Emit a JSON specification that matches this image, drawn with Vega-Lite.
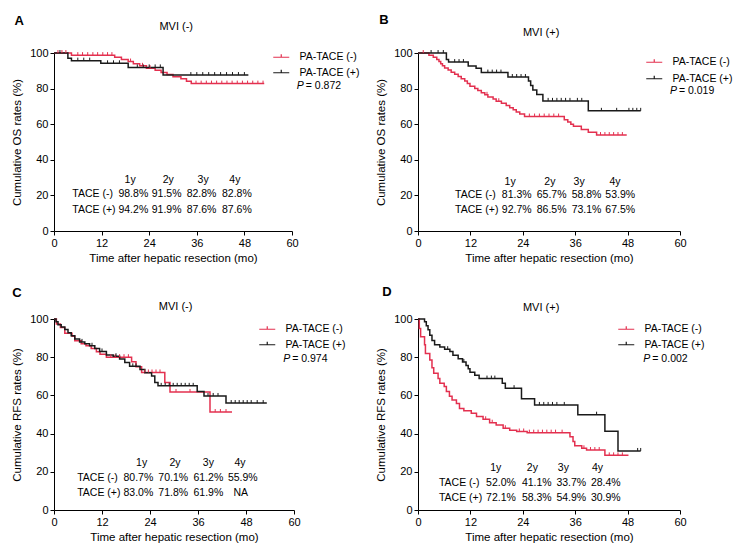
{
"$schema": "https://vega.github.io/schema/vega-lite/v6.json",
"autosize": {"type": "none"},
"padding": {"left": 54, "top": 53, "right": 685, "bottom": 501},
"background": "white",
"config": {
  "view": {"stroke": null},
  "font": "Liberation Sans",
  "axis": {"grid": false, "domainColor": "#000", "tickColor": "#000", "labelColor": "#000", "titleColor": "#000", "labelFont": "Liberation Sans", "titleFont": "Liberation Sans", "labelFontSize": 11, "titleFontSize": 11.5, "titleFontWeight": "normal", "tickSize": 4, "labelPadding": 2, "domainWidth": 1, "tickWidth": 1, "labelOverlap": false},
  "legend": {"labelFont": "Liberation Sans"},
  "text": {"color": "#000", "font": "Liberation Sans"}
},
"datasets": {
  "curves": [
    {"panel":"A","g":"PA-TACE (-)","t":0,"s":100},{"panel":"A","g":"PA-TACE (-)","t":4.4,"s":98.8},{"panel":"A","g":"PA-TACE (-)","t":15.3,"s":97.6},{"panel":"A","g":"PA-TACE (-)","t":17.0,"s":96.4},{"panel":"A","g":"PA-TACE (-)","t":18.7,"s":95.2},{"panel":"A","g":"PA-TACE (-)","t":20.0,"s":94.0},{"panel":"A","g":"PA-TACE (-)","t":21.6,"s":92.8},{"panel":"A","g":"PA-TACE (-)","t":23.3,"s":91.5},{"panel":"A","g":"PA-TACE (-)","t":25.5,"s":90.3},{"panel":"A","g":"PA-TACE (-)","t":27.0,"s":89.1},{"panel":"A","g":"PA-TACE (-)","t":28.5,"s":87.9},{"panel":"A","g":"PA-TACE (-)","t":30.0,"s":86.7},{"panel":"A","g":"PA-TACE (-)","t":32.0,"s":85.5},{"panel":"A","g":"PA-TACE (-)","t":33.4,"s":84.1},{"panel":"A","g":"PA-TACE (-)","t":34.6,"s":82.8},{"panel":"A","g":"PA-TACE (-)","t":53.0,"s":82.8},
    {"panel":"A","g":"PA-TACE (+)","t":0,"s":100},{"panel":"A","g":"PA-TACE (+)","t":3.5,"s":97.1},{"panel":"A","g":"PA-TACE (+)","t":4.4,"s":95.7},{"panel":"A","g":"PA-TACE (+)","t":11.8,"s":94.2},{"panel":"A","g":"PA-TACE (+)","t":18.7,"s":91.9},{"panel":"A","g":"PA-TACE (+)","t":27.5,"s":87.6},{"panel":"A","g":"PA-TACE (+)","t":49.0,"s":87.6},
    {"panel":"B","g":"PA-TACE (-)","t":0,"s":100},{"panel":"B","g":"PA-TACE (-)","t":2.5,"s":98.8},{"panel":"B","g":"PA-TACE (-)","t":3.5,"s":97.6},{"panel":"B","g":"PA-TACE (-)","t":4.3,"s":96.4},{"panel":"B","g":"PA-TACE (-)","t":4.8,"s":95.2},{"panel":"B","g":"PA-TACE (-)","t":5.2,"s":94.0},{"panel":"B","g":"PA-TACE (-)","t":5.6,"s":92.8},{"panel":"B","g":"PA-TACE (-)","t":6.1,"s":91.6},{"panel":"B","g":"PA-TACE (-)","t":6.9,"s":90.4},{"panel":"B","g":"PA-TACE (-)","t":7.6,"s":89.2},{"panel":"B","g":"PA-TACE (-)","t":8.4,"s":88.0},{"panel":"B","g":"PA-TACE (-)","t":9.2,"s":86.8},{"panel":"B","g":"PA-TACE (-)","t":9.9,"s":85.6},{"panel":"B","g":"PA-TACE (-)","t":10.7,"s":84.2},{"panel":"B","g":"PA-TACE (-)","t":11.3,"s":82.8},{"panel":"B","g":"PA-TACE (-)","t":11.9,"s":81.3},{"panel":"B","g":"PA-TACE (-)","t":13.0,"s":80.1},{"panel":"B","g":"PA-TACE (-)","t":13.7,"s":78.9},{"panel":"B","g":"PA-TACE (-)","t":14.5,"s":77.7},{"panel":"B","g":"PA-TACE (-)","t":15.3,"s":76.5},{"panel":"B","g":"PA-TACE (-)","t":16.0,"s":75.3},{"panel":"B","g":"PA-TACE (-)","t":17.2,"s":74.1},{"panel":"B","g":"PA-TACE (-)","t":17.9,"s":72.9},{"panel":"B","g":"PA-TACE (-)","t":19.1,"s":71.7},{"panel":"B","g":"PA-TACE (-)","t":20.2,"s":70.5},{"panel":"B","g":"PA-TACE (-)","t":21.0,"s":69.3},{"panel":"B","g":"PA-TACE (-)","t":21.8,"s":68.1},{"panel":"B","g":"PA-TACE (-)","t":22.5,"s":66.9},{"panel":"B","g":"PA-TACE (-)","t":23.3,"s":65.7},{"panel":"B","g":"PA-TACE (-)","t":24.4,"s":64.3},{"panel":"B","g":"PA-TACE (-)","t":33.5,"s":62.5},{"panel":"B","g":"PA-TACE (-)","t":34.3,"s":61.2},{"panel":"B","g":"PA-TACE (-)","t":35.0,"s":60.0},{"panel":"B","g":"PA-TACE (-)","t":35.6,"s":58.8},{"panel":"B","g":"PA-TACE (-)","t":37.4,"s":57.0},{"panel":"B","g":"PA-TACE (-)","t":39.0,"s":55.5},{"panel":"B","g":"PA-TACE (-)","t":40.9,"s":53.9},{"panel":"B","g":"PA-TACE (-)","t":47.8,"s":53.9},
    {"panel":"B","g":"PA-TACE (+)","t":0,"s":100},{"panel":"B","g":"PA-TACE (+)","t":6.5,"s":96.3},{"panel":"B","g":"PA-TACE (+)","t":7.0,"s":94.9},{"panel":"B","g":"PA-TACE (+)","t":11.5,"s":92.7},{"panel":"B","g":"PA-TACE (+)","t":13.3,"s":91.4},{"panel":"B","g":"PA-TACE (+)","t":14.5,"s":89.0},{"panel":"B","g":"PA-TACE (+)","t":20.6,"s":86.5},{"panel":"B","g":"PA-TACE (+)","t":25.3,"s":84.2},{"panel":"B","g":"PA-TACE (+)","t":25.8,"s":81.7},{"panel":"B","g":"PA-TACE (+)","t":26.3,"s":79.2},{"panel":"B","g":"PA-TACE (+)","t":27.2,"s":76.7},{"panel":"B","g":"PA-TACE (+)","t":28.6,"s":73.1},{"panel":"B","g":"PA-TACE (+)","t":39.0,"s":67.5},{"panel":"B","g":"PA-TACE (+)","t":51.0,"s":67.5},
    {"panel":"C","g":"PA-TACE (-)","t":0,"s":100},{"panel":"C","g":"PA-TACE (-)","t":0.6,"s":97.4},{"panel":"C","g":"PA-TACE (-)","t":1.6,"s":95.6},{"panel":"C","g":"PA-TACE (-)","t":2.7,"s":92.6},{"panel":"C","g":"PA-TACE (-)","t":4.5,"s":91.0},{"panel":"C","g":"PA-TACE (-)","t":5.2,"s":88.6},{"panel":"C","g":"PA-TACE (-)","t":6.8,"s":87.0},{"panel":"C","g":"PA-TACE (-)","t":8.0,"s":86.0},{"panel":"C","g":"PA-TACE (-)","t":9.3,"s":84.5},{"panel":"C","g":"PA-TACE (-)","t":10.6,"s":82.8},{"panel":"C","g":"PA-TACE (-)","t":11.5,"s":81.5},{"panel":"C","g":"PA-TACE (-)","t":13.1,"s":80.0},{"panel":"C","g":"PA-TACE (-)","t":19.4,"s":77.6},{"panel":"C","g":"PA-TACE (-)","t":20.5,"s":75.0},{"panel":"C","g":"PA-TACE (-)","t":21.9,"s":72.0},{"panel":"C","g":"PA-TACE (-)","t":27.7,"s":66.7},{"panel":"C","g":"PA-TACE (-)","t":29.0,"s":61.8},{"panel":"C","g":"PA-TACE (-)","t":39.0,"s":51.3},{"panel":"C","g":"PA-TACE (-)","t":44.5,"s":51.3},
    {"panel":"C","g":"PA-TACE (+)","t":0,"s":100},{"panel":"C","g":"PA-TACE (+)","t":0.5,"s":98.5},{"panel":"C","g":"PA-TACE (+)","t":1.0,"s":97.0},{"panel":"C","g":"PA-TACE (+)","t":1.8,"s":95.8},{"panel":"C","g":"PA-TACE (+)","t":2.7,"s":94.5},{"panel":"C","g":"PA-TACE (+)","t":3.5,"s":92.8},{"panel":"C","g":"PA-TACE (+)","t":4.3,"s":91.2},{"panel":"C","g":"PA-TACE (+)","t":5.2,"s":89.5},{"panel":"C","g":"PA-TACE (+)","t":6.4,"s":88.0},{"panel":"C","g":"PA-TACE (+)","t":7.7,"s":87.0},{"panel":"C","g":"PA-TACE (+)","t":8.9,"s":86.0},{"panel":"C","g":"PA-TACE (+)","t":10.2,"s":84.5},{"panel":"C","g":"PA-TACE (+)","t":11.4,"s":83.0},{"panel":"C","g":"PA-TACE (+)","t":13.1,"s":81.2},{"panel":"C","g":"PA-TACE (+)","t":14.8,"s":80.5},{"panel":"C","g":"PA-TACE (+)","t":16.4,"s":79.0},{"panel":"C","g":"PA-TACE (+)","t":17.7,"s":77.2},{"panel":"C","g":"PA-TACE (+)","t":18.9,"s":75.2},{"panel":"C","g":"PA-TACE (+)","t":21.5,"s":73.5},{"panel":"C","g":"PA-TACE (+)","t":22.7,"s":71.8},{"panel":"C","g":"PA-TACE (+)","t":24.4,"s":70.2},{"panel":"C","g":"PA-TACE (+)","t":25.2,"s":66.7},{"panel":"C","g":"PA-TACE (+)","t":26.0,"s":65.0},{"panel":"C","g":"PA-TACE (+)","t":35.8,"s":62.0},{"panel":"C","g":"PA-TACE (+)","t":37.5,"s":59.7},{"panel":"C","g":"PA-TACE (+)","t":43.0,"s":56.0},{"panel":"C","g":"PA-TACE (+)","t":53.2,"s":56.0},
    {"panel":"D","g":"PA-TACE (-)","t":0,"s":100},{"panel":"D","g":"PA-TACE (-)","t":0.3,"s":95.0},{"panel":"D","g":"PA-TACE (-)","t":0.6,"s":90.7},{"panel":"D","g":"PA-TACE (-)","t":1.5,"s":86.5},{"panel":"D","g":"PA-TACE (-)","t":1.7,"s":82.0},{"panel":"D","g":"PA-TACE (-)","t":2.7,"s":78.5},{"panel":"D","g":"PA-TACE (-)","t":3.2,"s":74.5},{"panel":"D","g":"PA-TACE (-)","t":3.6,"s":71.6},{"panel":"D","g":"PA-TACE (-)","t":4.6,"s":68.8},{"panel":"D","g":"PA-TACE (-)","t":5.0,"s":66.3},{"panel":"D","g":"PA-TACE (-)","t":6.0,"s":64.6},{"panel":"D","g":"PA-TACE (-)","t":6.5,"s":62.0},{"panel":"D","g":"PA-TACE (-)","t":7.2,"s":59.5},{"panel":"D","g":"PA-TACE (-)","t":7.8,"s":57.6},{"panel":"D","g":"PA-TACE (-)","t":8.8,"s":55.8},{"panel":"D","g":"PA-TACE (-)","t":9.5,"s":53.2},{"panel":"D","g":"PA-TACE (-)","t":10.5,"s":52.0},{"panel":"D","g":"PA-TACE (-)","t":12.2,"s":50.6},{"panel":"D","g":"PA-TACE (-)","t":13.4,"s":48.9},{"panel":"D","g":"PA-TACE (-)","t":14.9,"s":47.5},{"panel":"D","g":"PA-TACE (-)","t":16.4,"s":45.7},{"panel":"D","g":"PA-TACE (-)","t":17.9,"s":44.5},{"panel":"D","g":"PA-TACE (-)","t":19.5,"s":42.8},{"panel":"D","g":"PA-TACE (-)","t":21.0,"s":41.8},{"panel":"D","g":"PA-TACE (-)","t":22.6,"s":41.1},{"panel":"D","g":"PA-TACE (-)","t":25.0,"s":40.5},{"panel":"D","g":"PA-TACE (-)","t":34.8,"s":38.4},{"panel":"D","g":"PA-TACE (-)","t":35.5,"s":35.9},{"panel":"D","g":"PA-TACE (-)","t":35.9,"s":33.7},{"panel":"D","g":"PA-TACE (-)","t":37.5,"s":32.3},{"panel":"D","g":"PA-TACE (-)","t":38.6,"s":31.4},{"panel":"D","g":"PA-TACE (-)","t":42.8,"s":28.6},{"panel":"D","g":"PA-TACE (-)","t":48.2,"s":28.6},
    {"panel":"D","g":"PA-TACE (+)","t":0,"s":100},{"panel":"D","g":"PA-TACE (+)","t":1.5,"s":98.5},{"panel":"D","g":"PA-TACE (+)","t":1.9,"s":96.5},{"panel":"D","g":"PA-TACE (+)","t":2.3,"s":94.4},{"panel":"D","g":"PA-TACE (+)","t":2.7,"s":91.5},{"panel":"D","g":"PA-TACE (+)","t":3.2,"s":88.8},{"panel":"D","g":"PA-TACE (+)","t":3.8,"s":86.5},{"panel":"D","g":"PA-TACE (+)","t":5.0,"s":85.3},{"panel":"D","g":"PA-TACE (+)","t":6.1,"s":84.2},{"panel":"D","g":"PA-TACE (+)","t":7.3,"s":83.0},{"panel":"D","g":"PA-TACE (+)","t":8.0,"s":81.0},{"panel":"D","g":"PA-TACE (+)","t":9.2,"s":79.2},{"panel":"D","g":"PA-TACE (+)","t":10.2,"s":77.5},{"panel":"D","g":"PA-TACE (+)","t":11.0,"s":75.7},{"panel":"D","g":"PA-TACE (+)","t":11.5,"s":73.9},{"panel":"D","g":"PA-TACE (+)","t":11.9,"s":72.1},{"panel":"D","g":"PA-TACE (+)","t":13.0,"s":70.5},{"panel":"D","g":"PA-TACE (+)","t":14.0,"s":68.8},{"panel":"D","g":"PA-TACE (+)","t":19.3,"s":66.3},{"panel":"D","g":"PA-TACE (+)","t":20.0,"s":63.8},{"panel":"D","g":"PA-TACE (+)","t":23.7,"s":58.3},{"panel":"D","g":"PA-TACE (+)","t":26.7,"s":55.0},{"panel":"D","g":"PA-TACE (+)","t":36.6,"s":49.9},{"panel":"D","g":"PA-TACE (+)","t":42.8,"s":41.2},{"panel":"D","g":"PA-TACE (+)","t":45.8,"s":30.9},{"panel":"D","g":"PA-TACE (+)","t":51.0,"s":30.9}
  ],
  "censor": [
    {"panel":"A","g":"PA-TACE (-)","t":1,"s":100},{"panel":"A","g":"PA-TACE (-)","t":2,"s":100},{"panel":"A","g":"PA-TACE (-)","t":3,"s":100},{"panel":"A","g":"PA-TACE (-)","t":6,"s":98.8},{"panel":"A","g":"PA-TACE (-)","t":7.2,"s":98.8},{"panel":"A","g":"PA-TACE (-)","t":8.5,"s":98.8},{"panel":"A","g":"PA-TACE (-)","t":9.8,"s":98.8},{"panel":"A","g":"PA-TACE (-)","t":11,"s":98.8},{"panel":"A","g":"PA-TACE (-)","t":12.3,"s":98.8},{"panel":"A","g":"PA-TACE (-)","t":13.5,"s":98.8},{"panel":"A","g":"PA-TACE (-)","t":14.6,"s":98.8},{"panel":"A","g":"PA-TACE (-)","t":19.3,"s":95.2},{"panel":"A","g":"PA-TACE (-)","t":22.3,"s":92.8},{"panel":"A","g":"PA-TACE (-)","t":24.2,"s":91.5},{"panel":"A","g":"PA-TACE (-)","t":35.8,"s":82.8},{"panel":"A","g":"PA-TACE (-)","t":37.1,"s":82.8},{"panel":"A","g":"PA-TACE (-)","t":38.4,"s":82.8},{"panel":"A","g":"PA-TACE (-)","t":39.7,"s":82.8},{"panel":"A","g":"PA-TACE (-)","t":41,"s":82.8},{"panel":"A","g":"PA-TACE (-)","t":42.3,"s":82.8},{"panel":"A","g":"PA-TACE (-)","t":43.6,"s":82.8},{"panel":"A","g":"PA-TACE (-)","t":44.9,"s":82.8},{"panel":"A","g":"PA-TACE (-)","t":46.2,"s":82.8},{"panel":"A","g":"PA-TACE (-)","t":47.5,"s":82.8},{"panel":"A","g":"PA-TACE (-)","t":48.8,"s":82.8},{"panel":"A","g":"PA-TACE (-)","t":50.1,"s":82.8},{"panel":"A","g":"PA-TACE (-)","t":51.4,"s":82.8},{"panel":"A","g":"PA-TACE (-)","t":52.7,"s":82.8},
    {"panel":"A","g":"PA-TACE (+)","t":1.5,"s":100},{"panel":"A","g":"PA-TACE (+)","t":6,"s":95.7},{"panel":"A","g":"PA-TACE (+)","t":7.5,"s":95.7},{"panel":"A","g":"PA-TACE (+)","t":9,"s":95.7},{"panel":"A","g":"PA-TACE (+)","t":13.5,"s":94.2},{"panel":"A","g":"PA-TACE (+)","t":15,"s":94.2},{"panel":"A","g":"PA-TACE (+)","t":16.5,"s":94.2},{"panel":"A","g":"PA-TACE (+)","t":21,"s":91.9},{"panel":"A","g":"PA-TACE (+)","t":22.5,"s":91.9},{"panel":"A","g":"PA-TACE (+)","t":24,"s":91.9},{"panel":"A","g":"PA-TACE (+)","t":25.5,"s":91.9},{"panel":"A","g":"PA-TACE (+)","t":26.8,"s":91.9},{"panel":"A","g":"PA-TACE (+)","t":34.5,"s":87.6},{"panel":"A","g":"PA-TACE (+)","t":36,"s":87.6},{"panel":"A","g":"PA-TACE (+)","t":37.5,"s":87.6},{"panel":"A","g":"PA-TACE (+)","t":39,"s":87.6},{"panel":"A","g":"PA-TACE (+)","t":40.5,"s":87.6},{"panel":"A","g":"PA-TACE (+)","t":42,"s":87.6},{"panel":"A","g":"PA-TACE (+)","t":43.5,"s":87.6},{"panel":"A","g":"PA-TACE (+)","t":45,"s":87.6},{"panel":"A","g":"PA-TACE (+)","t":46.5,"s":87.6},{"panel":"A","g":"PA-TACE (+)","t":48,"s":87.6},
    {"panel":"B","g":"PA-TACE (-)","t":1.2,"s":100},{"panel":"B","g":"PA-TACE (-)","t":15.8,"s":76.5},{"panel":"B","g":"PA-TACE (-)","t":18.5,"s":72.9},{"panel":"B","g":"PA-TACE (-)","t":25.5,"s":64.3},{"panel":"B","g":"PA-TACE (-)","t":26.7,"s":64.3},{"panel":"B","g":"PA-TACE (-)","t":27.8,"s":64.3},{"panel":"B","g":"PA-TACE (-)","t":28.9,"s":64.3},{"panel":"B","g":"PA-TACE (-)","t":30,"s":64.3},{"panel":"B","g":"PA-TACE (-)","t":31.1,"s":64.3},{"panel":"B","g":"PA-TACE (-)","t":32.2,"s":64.3},{"panel":"B","g":"PA-TACE (-)","t":41.8,"s":53.9},{"panel":"B","g":"PA-TACE (-)","t":42.8,"s":53.9},{"panel":"B","g":"PA-TACE (-)","t":43.8,"s":53.9},{"panel":"B","g":"PA-TACE (-)","t":44.8,"s":53.9},{"panel":"B","g":"PA-TACE (-)","t":45.8,"s":53.9},{"panel":"B","g":"PA-TACE (-)","t":46.8,"s":53.9},
    {"panel":"B","g":"PA-TACE (+)","t":3,"s":100},{"panel":"B","g":"PA-TACE (+)","t":4.6,"s":100},{"panel":"B","g":"PA-TACE (+)","t":5.8,"s":100},{"panel":"B","g":"PA-TACE (+)","t":8.4,"s":94.9},{"panel":"B","g":"PA-TACE (+)","t":9.4,"s":94.9},{"panel":"B","g":"PA-TACE (+)","t":10.4,"s":94.9},{"panel":"B","g":"PA-TACE (+)","t":16,"s":89.0},{"panel":"B","g":"PA-TACE (+)","t":17,"s":89.0},{"panel":"B","g":"PA-TACE (+)","t":18,"s":89.0},{"panel":"B","g":"PA-TACE (+)","t":19,"s":89.0},{"panel":"B","g":"PA-TACE (+)","t":21.6,"s":86.5},{"panel":"B","g":"PA-TACE (+)","t":22.6,"s":86.5},{"panel":"B","g":"PA-TACE (+)","t":23.6,"s":86.5},{"panel":"B","g":"PA-TACE (+)","t":24.6,"s":86.5},{"panel":"B","g":"PA-TACE (+)","t":29.8,"s":73.1},{"panel":"B","g":"PA-TACE (+)","t":30.8,"s":73.1},{"panel":"B","g":"PA-TACE (+)","t":31.8,"s":73.1},{"panel":"B","g":"PA-TACE (+)","t":32.8,"s":73.1},{"panel":"B","g":"PA-TACE (+)","t":33.8,"s":73.1},{"panel":"B","g":"PA-TACE (+)","t":34.8,"s":73.1},{"panel":"B","g":"PA-TACE (+)","t":36.5,"s":73.1},{"panel":"B","g":"PA-TACE (+)","t":37.5,"s":73.1},{"panel":"B","g":"PA-TACE (+)","t":42,"s":67.5},{"panel":"B","g":"PA-TACE (+)","t":45.5,"s":67.5},{"panel":"B","g":"PA-TACE (+)","t":48.3,"s":67.5},{"panel":"B","g":"PA-TACE (+)","t":49.2,"s":67.5},{"panel":"B","g":"PA-TACE (+)","t":50.1,"s":67.5},{"panel":"B","g":"PA-TACE (+)","t":51,"s":67.5},
    {"panel":"C","g":"PA-TACE (-)","t":14.2,"s":80},{"panel":"C","g":"PA-TACE (-)","t":15.3,"s":80},{"panel":"C","g":"PA-TACE (-)","t":16.4,"s":80},{"panel":"C","g":"PA-TACE (-)","t":17.5,"s":80},{"panel":"C","g":"PA-TACE (-)","t":18.6,"s":80},{"panel":"C","g":"PA-TACE (-)","t":22.7,"s":72},{"panel":"C","g":"PA-TACE (-)","t":23.6,"s":72},{"panel":"C","g":"PA-TACE (-)","t":24.5,"s":72},{"panel":"C","g":"PA-TACE (-)","t":25.5,"s":72},{"panel":"C","g":"PA-TACE (-)","t":26.5,"s":72},{"panel":"C","g":"PA-TACE (-)","t":30.5,"s":61.8},{"panel":"C","g":"PA-TACE (-)","t":34,"s":61.8},{"panel":"C","g":"PA-TACE (-)","t":40.3,"s":51.3},{"panel":"C","g":"PA-TACE (-)","t":41.6,"s":51.3},{"panel":"C","g":"PA-TACE (-)","t":43,"s":51.3},
    {"panel":"C","g":"PA-TACE (+)","t":7,"s":88},{"panel":"C","g":"PA-TACE (+)","t":9.5,"s":86},{"panel":"C","g":"PA-TACE (+)","t":12,"s":83},{"panel":"C","g":"PA-TACE (+)","t":15.5,"s":80.5},{"panel":"C","g":"PA-TACE (+)","t":19.7,"s":75.2},{"panel":"C","g":"PA-TACE (+)","t":20.5,"s":75.2},{"panel":"C","g":"PA-TACE (+)","t":26.8,"s":65},{"panel":"C","g":"PA-TACE (+)","t":27.8,"s":65},{"panel":"C","g":"PA-TACE (+)","t":28.8,"s":65},{"panel":"C","g":"PA-TACE (+)","t":29.8,"s":65},{"panel":"C","g":"PA-TACE (+)","t":30.8,"s":65},{"panel":"C","g":"PA-TACE (+)","t":31.8,"s":65},{"panel":"C","g":"PA-TACE (+)","t":32.8,"s":65},{"panel":"C","g":"PA-TACE (+)","t":33.8,"s":65},{"panel":"C","g":"PA-TACE (+)","t":34.8,"s":65},{"panel":"C","g":"PA-TACE (+)","t":38.5,"s":59.7},{"panel":"C","g":"PA-TACE (+)","t":39.8,"s":59.7},{"panel":"C","g":"PA-TACE (+)","t":41,"s":59.7},{"panel":"C","g":"PA-TACE (+)","t":44.3,"s":56},{"panel":"C","g":"PA-TACE (+)","t":45.3,"s":56},{"panel":"C","g":"PA-TACE (+)","t":46.3,"s":56},{"panel":"C","g":"PA-TACE (+)","t":47.3,"s":56},{"panel":"C","g":"PA-TACE (+)","t":48.3,"s":56},{"panel":"C","g":"PA-TACE (+)","t":49.3,"s":56},{"panel":"C","g":"PA-TACE (+)","t":50.8,"s":56},{"panel":"C","g":"PA-TACE (+)","t":52.3,"s":56},
    {"panel":"D","g":"PA-TACE (-)","t":15.5,"s":47.5},{"panel":"D","g":"PA-TACE (-)","t":17,"s":45.7},{"panel":"D","g":"PA-TACE (-)","t":20,"s":42.8},{"panel":"D","g":"PA-TACE (-)","t":23.2,"s":41.1},{"panel":"D","g":"PA-TACE (-)","t":24.2,"s":41.1},{"panel":"D","g":"PA-TACE (-)","t":25.5,"s":40.5},{"panel":"D","g":"PA-TACE (-)","t":26.5,"s":40.5},{"panel":"D","g":"PA-TACE (-)","t":27.5,"s":40.5},{"panel":"D","g":"PA-TACE (-)","t":28.5,"s":40.5},{"panel":"D","g":"PA-TACE (-)","t":29.5,"s":40.5},{"panel":"D","g":"PA-TACE (-)","t":30.5,"s":40.5},{"panel":"D","g":"PA-TACE (-)","t":31.5,"s":40.5},{"panel":"D","g":"PA-TACE (-)","t":33,"s":40.5},{"panel":"D","g":"PA-TACE (-)","t":38,"s":32.3},{"panel":"D","g":"PA-TACE (-)","t":39.5,"s":31.4},{"panel":"D","g":"PA-TACE (-)","t":40.5,"s":31.4},{"panel":"D","g":"PA-TACE (-)","t":41.5,"s":31.4},{"panel":"D","g":"PA-TACE (-)","t":43.8,"s":28.6},{"panel":"D","g":"PA-TACE (-)","t":44.8,"s":28.6},{"panel":"D","g":"PA-TACE (-)","t":45.8,"s":28.6},{"panel":"D","g":"PA-TACE (-)","t":46.8,"s":28.6},
    {"panel":"D","g":"PA-TACE (+)","t":6.8,"s":84.2},{"panel":"D","g":"PA-TACE (+)","t":10.5,"s":77.5},{"panel":"D","g":"PA-TACE (+)","t":15.8,"s":68.8},{"panel":"D","g":"PA-TACE (+)","t":16.8,"s":68.8},{"panel":"D","g":"PA-TACE (+)","t":17.6,"s":68.8},{"panel":"D","g":"PA-TACE (+)","t":22,"s":63.8},{"panel":"D","g":"PA-TACE (+)","t":27.8,"s":55},{"panel":"D","g":"PA-TACE (+)","t":28.8,"s":55},{"panel":"D","g":"PA-TACE (+)","t":29.8,"s":55},{"panel":"D","g":"PA-TACE (+)","t":30.8,"s":55},{"panel":"D","g":"PA-TACE (+)","t":31.8,"s":55},{"panel":"D","g":"PA-TACE (+)","t":33.5,"s":55},{"panel":"D","g":"PA-TACE (+)","t":40.9,"s":49.9},{"panel":"D","g":"PA-TACE (+)","t":50.3,"s":30.9},{"panel":"D","g":"PA-TACE (+)","t":51,"s":30.9}
  ],
  "letters": [
    {"panel":"A","t":-8.8,"s":118,"label":"A"},{"panel":"B","t":-7.8,"s":118.5,"label":"B"},{"panel":"C","t":-9.25,"s":113.6,"label":"C"},{"panel":"D","t":-7.1,"s":114.1,"label":"D"}
  ],
  "titles": [
    {"panel":"A","t":30.8,"s":114.6,"label":"MVI (-)"},{"panel":"B","t":28.2,"s":111.1,"label":"MVI (+)"},{"panel":"C","t":30.4,"s":106.4,"label":"MVI (-)"},{"panel":"D","t":28.2,"s":105.9,"label":"MVI (+)"}
  ],
  "table": [
    {"panel":"A","t":19.2,"s":28.7,"label":"1y"},{"panel":"A","t":28.8,"s":28.7,"label":"2y"},{"panel":"A","t":37.6,"s":28.7,"label":"3y"},{"panel":"A","t":45.6,"s":28.7,"label":"4y"},
    {"panel":"A","t":20.0,"s":20.6,"label":"98.8%"},{"panel":"A","t":28.4,"s":20.6,"label":"91.5%"},{"panel":"A","t":37.2,"s":20.6,"label":"82.8%"},{"panel":"A","t":46.1,"s":20.6,"label":"82.8%"},
    {"panel":"A","t":20.0,"s":11.8,"label":"94.2%"},{"panel":"A","t":28.4,"s":11.8,"label":"91.9%"},{"panel":"A","t":37.2,"s":11.8,"label":"87.6%"},{"panel":"A","t":46.1,"s":11.8,"label":"87.6%"},
    {"panel":"B","t":21.1,"s":27.7,"label":"1y"},{"panel":"B","t":30.2,"s":27.7,"label":"2y"},{"panel":"B","t":36.9,"s":27.7,"label":"3y"},{"panel":"B","t":45.1,"s":27.7,"label":"4y"},
    {"panel":"B","t":22.6,"s":20.2,"label":"81.3%"},{"panel":"B","t":30.6,"s":20.2,"label":"65.7%"},{"panel":"B","t":38.6,"s":20.2,"label":"58.8%"},{"panel":"B","t":46.3,"s":20.2,"label":"53.9%"},
    {"panel":"B","t":22.6,"s":11.8,"label":"92.7%"},{"panel":"B","t":30.6,"s":11.8,"label":"86.5%"},{"panel":"B","t":38.6,"s":11.8,"label":"73.1%"},{"panel":"B","t":46.3,"s":11.8,"label":"67.5%"},
    {"panel":"C","t":21.9,"s":24.4,"label":"1y"},{"panel":"C","t":30.25,"s":24.4,"label":"2y"},{"panel":"C","t":38.6,"s":24.4,"label":"3y"},{"panel":"C","t":46.5,"s":24.4,"label":"4y"},
    {"panel":"C","t":21.1,"s":16.6,"label":"80.7%"},{"panel":"C","t":29.8,"s":16.6,"label":"70.1%"},{"panel":"C","t":38.6,"s":16.6,"label":"61.2%"},{"panel":"C","t":47.2,"s":16.6,"label":"55.9%"},
    {"panel":"C","t":21.1,"s":8.7,"label":"83.0%"},{"panel":"C","t":29.8,"s":8.7,"label":"71.8%"},{"panel":"C","t":38.6,"s":8.7,"label":"61.9%"},{"panel":"C","t":46.7,"s":8.7,"label":"NA"},
    {"panel":"D","t":17.8,"s":21.8,"label":"1y"},{"panel":"D","t":26.2,"s":21.8,"label":"2y"},{"panel":"D","t":33.3,"s":21.8,"label":"3y"},{"panel":"D","t":41.1,"s":21.8,"label":"4y"},
    {"panel":"D","t":19.0,"s":14.0,"label":"52.0%"},{"panel":"D","t":27.2,"s":14.0,"label":"41.1%"},{"panel":"D","t":35.1,"s":14.0,"label":"33.7%"},{"panel":"D","t":43.0,"s":14.0,"label":"28.4%"},
    {"panel":"D","t":19.0,"s":6.1,"label":"72.1%"},{"panel":"D","t":27.2,"s":6.1,"label":"58.3%"},{"panel":"D","t":35.1,"s":6.1,"label":"54.9%"},{"panel":"D","t":43.0,"s":6.1,"label":"30.9%"}
  ],
  "rowlabels": [
    {"panel":"A","t":4.6,"s":20.6,"label":"TACE (-)"},{"panel":"A","t":4.6,"s":11.8,"label":"TACE (+)"},
    {"panel":"B","t":8.5,"s":20.2,"label":"TACE (-)"},{"panel":"B","t":8.5,"s":11.8,"label":"TACE (+)"},
    {"panel":"C","t":5.8,"s":16.6,"label":"TACE (-)"},{"panel":"C","t":5.8,"s":8.7,"label":"TACE (+)"},
    {"panel":"D","t":4.8,"s":14.0,"label":"TACE (-)"},{"panel":"D","t":4.8,"s":6.1,"label":"TACE (+)"}
  ],
  "pvals": [
    {"panel":"A","t":61.2,"s":81.5,"label":"P","eq":"= 0.872"},{"panel":"B","t":57.7,"s":78.8,"label":"P","eq":"= 0.019"},{"panel":"C","t":57.3,"s":78.9,"label":"P","eq":"= 0.974"},{"panel":"D","t":51.6,"s":78.9,"label":"P","eq":"= 0.002"}
  ]
},
"columns": 2,
"spacing": {"row": 88, "column": 124},
"bounds": "flush",
"resolve": {"scale": {"color": "independent"}, "legend": {"color": "independent"}},
"concat": [
  {"width": 238, "height": 178,
   "layer": [
    {"data": {"name": "curves"}, "transform": [{"filter": "datum.panel === 'A'"}],
     "mark": {"type": "line", "interpolate": "step-after", "strokeWidth": 1.5},
     "encoding": {
       "x": {"field": "t", "type": "quantitative", "scale": {"domain": [0, 60], "nice": false}, "axis": {"values": [0, 12, 24, 36, 48, 60], "tickCount": 12, "title": "Time after hepatic resection (mo)", "labelFlush": false, "labelOverlap": false, "titlePadding": 4}},
       "y": {"field": "s", "type": "quantitative", "scale": {"domain": [0, 100], "nice": false}, "axis": {"values": [0, 20, 40, 60, 80, 100], "tickCount": 12, "title": "Cumulative OS rates (%)", "labelOverlap": false, "titlePadding": 7}},
       "color": {"field": "g", "type": "nominal", "scale": {"domain": ["PA-TACE (-)", "PA-TACE (+)"], "range": ["#e3304f", "#1a1a1a"]},
         "legend": {"orient": "none", "legendX": 222, "legendY": -1, "title": null, "symbolType": "M-2,0H2M0,0V-0.75", "symbolSize": 64, "symbolStrokeWidth": 1.2, "labelFontSize": 10.5, "labelOffset": 13, "rowPadding": 3.5, "labelColor": "#000"}}}},
    {"data": {"name": "censor"}, "transform": [{"filter": "datum.panel === 'A'"}],
     "mark": {"type": "point", "shape": "M0,0V-1", "size": 36, "strokeWidth": 1, "filled": false, "opacity": 1},
     "encoding": {"x": {"field": "t", "type": "quantitative"}, "y": {"field": "s", "type": "quantitative"}, "color": {"field": "g", "type": "nominal"}}},
    {"data": {"name": "letters"}, "transform": [{"filter": "datum.panel === 'A'"}],
     "mark": {"type": "text", "fontWeight": "bold", "fontSize": 13, "align": "center", "baseline": "middle"},
     "encoding": {"x": {"field": "t", "type": "quantitative"}, "y": {"field": "s", "type": "quantitative"}, "text": {"field": "label"}}},
    {"data": {"name": "titles"}, "transform": [{"filter": "datum.panel === 'A'"}],
     "mark": {"type": "text", "fontSize": 11, "align": "center", "baseline": "middle"},
     "encoding": {"x": {"field": "t", "type": "quantitative"}, "y": {"field": "s", "type": "quantitative"}, "text": {"field": "label"}}},
    {"data": {"name": "table"}, "transform": [{"filter": "datum.panel === 'A'"}],
     "mark": {"type": "text", "fontSize": 10.5, "align": "center", "baseline": "middle"},
     "encoding": {"x": {"field": "t", "type": "quantitative"}, "y": {"field": "s", "type": "quantitative"}, "text": {"field": "label"}}},
    {"data": {"name": "rowlabels"}, "transform": [{"filter": "datum.panel === 'A'"}],
     "mark": {"type": "text", "fontSize": 10.5, "align": "left", "baseline": "middle"},
     "encoding": {"x": {"field": "t", "type": "quantitative"}, "y": {"field": "s", "type": "quantitative"}, "text": {"field": "label"}}},
    {"data": {"name": "pvals"}, "transform": [{"filter": "datum.panel === 'A'"}],
     "mark": {"type": "text", "fontSize": 10.5, "fontStyle": "italic", "align": "left", "baseline": "middle"},
     "encoding": {"x": {"field": "t", "type": "quantitative"}, "y": {"field": "s", "type": "quantitative"}, "text": {"field": "label"}}},
    {"data": {"name": "pvals"}, "transform": [{"filter": "datum.panel === 'A'"}],
     "mark": {"type": "text", "fontSize": 10.5, "align": "left", "baseline": "middle", "dx": 9},
     "encoding": {"x": {"field": "t", "type": "quantitative"}, "y": {"field": "s", "type": "quantitative"}, "text": {"field": "eq"}}}
   ]},
  {"width": 262, "height": 178,
   "layer": [
    {"data": {"name": "curves"}, "transform": [{"filter": "datum.panel === 'B'"}],
     "mark": {"type": "line", "interpolate": "step-after", "strokeWidth": 1.5},
     "encoding": {
       "x": {"field": "t", "type": "quantitative", "scale": {"domain": [0, 60], "nice": false}, "axis": {"values": [0, 12, 24, 36, 48, 60], "tickCount": 12, "title": "Time after hepatic resection (mo)", "labelFlush": false, "labelOverlap": false, "titlePadding": 4}},
       "y": {"field": "s", "type": "quantitative", "scale": {"domain": [0, 100], "nice": false}, "axis": {"values": [0, 20, 40, 60, 80, 100], "tickCount": 12, "title": "Cumulative OS rates (%)", "labelOverlap": false, "titlePadding": 7}},
       "color": {"field": "g", "type": "nominal", "scale": {"domain": ["PA-TACE (-)", "PA-TACE (+)"], "range": ["#e3304f", "#1a1a1a"]},
         "legend": {"orient": "none", "legendX": 231, "legendY": 4, "title": null, "symbolType": "M-2,0H2M0,0V-0.75", "symbolSize": 64, "symbolStrokeWidth": 1.2, "labelFontSize": 10.5, "labelOffset": 13, "rowPadding": 4.5, "labelColor": "#000"}}}},
    {"data": {"name": "censor"}, "transform": [{"filter": "datum.panel === 'B'"}],
     "mark": {"type": "point", "shape": "M0,0V-1", "size": 36, "strokeWidth": 1, "filled": false, "opacity": 1},
     "encoding": {"x": {"field": "t", "type": "quantitative"}, "y": {"field": "s", "type": "quantitative"}, "color": {"field": "g", "type": "nominal"}}},
    {"data": {"name": "letters"}, "transform": [{"filter": "datum.panel === 'B'"}],
     "mark": {"type": "text", "fontWeight": "bold", "fontSize": 13, "align": "center", "baseline": "middle"},
     "encoding": {"x": {"field": "t", "type": "quantitative"}, "y": {"field": "s", "type": "quantitative"}, "text": {"field": "label"}}},
    {"data": {"name": "titles"}, "transform": [{"filter": "datum.panel === 'B'"}],
     "mark": {"type": "text", "fontSize": 11, "align": "center", "baseline": "middle"},
     "encoding": {"x": {"field": "t", "type": "quantitative"}, "y": {"field": "s", "type": "quantitative"}, "text": {"field": "label"}}},
    {"data": {"name": "table"}, "transform": [{"filter": "datum.panel === 'B'"}],
     "mark": {"type": "text", "fontSize": 10.5, "align": "center", "baseline": "middle"},
     "encoding": {"x": {"field": "t", "type": "quantitative"}, "y": {"field": "s", "type": "quantitative"}, "text": {"field": "label"}}},
    {"data": {"name": "rowlabels"}, "transform": [{"filter": "datum.panel === 'B'"}],
     "mark": {"type": "text", "fontSize": 10.5, "align": "left", "baseline": "middle"},
     "encoding": {"x": {"field": "t", "type": "quantitative"}, "y": {"field": "s", "type": "quantitative"}, "text": {"field": "label"}}},
    {"data": {"name": "pvals"}, "transform": [{"filter": "datum.panel === 'B'"}],
     "mark": {"type": "text", "fontSize": 10.5, "fontStyle": "italic", "align": "left", "baseline": "middle"},
     "encoding": {"x": {"field": "t", "type": "quantitative"}, "y": {"field": "s", "type": "quantitative"}, "text": {"field": "label"}}},
    {"data": {"name": "pvals"}, "transform": [{"filter": "datum.panel === 'B'"}],
     "mark": {"type": "text", "fontSize": 10.5, "align": "left", "baseline": "middle", "dx": 9},
     "encoding": {"x": {"field": "t", "type": "quantitative"}, "y": {"field": "s", "type": "quantitative"}, "text": {"field": "eq"}}}
   ]},
  {"width": 240, "height": 191,
   "layer": [
    {"data": {"name": "curves"}, "transform": [{"filter": "datum.panel === 'C'"}],
     "mark": {"type": "line", "interpolate": "step-after", "strokeWidth": 1.5},
     "encoding": {
       "x": {"field": "t", "type": "quantitative", "scale": {"domain": [0, 60], "nice": false}, "axis": {"values": [0, 12, 24, 36, 48, 60], "tickCount": 12, "title": "Time after hepatic resection (mo)", "labelFlush": false, "labelOverlap": false, "titlePadding": 4}},
       "y": {"field": "s", "type": "quantitative", "scale": {"domain": [0, 100], "nice": false}, "axis": {"values": [0, 20, 40, 60, 80, 100], "tickCount": 12, "title": "Cumulative RFS rates (%)", "labelOverlap": false, "titlePadding": 7}},
       "color": {"field": "g", "type": "nominal", "scale": {"domain": ["PA-TACE (-)", "PA-TACE (+)"], "range": ["#e3304f", "#1a1a1a"]},
         "legend": {"orient": "none", "legendX": 208, "legendY": 5, "title": null, "symbolType": "M-2,0H2M0,0V-0.75", "symbolSize": 64, "symbolStrokeWidth": 1.2, "labelFontSize": 10.5, "labelOffset": 13, "rowPadding": 3.5, "labelColor": "#000"}}}},
    {"data": {"name": "censor"}, "transform": [{"filter": "datum.panel === 'C'"}],
     "mark": {"type": "point", "shape": "M0,0V-1", "size": 36, "strokeWidth": 1, "filled": false, "opacity": 1},
     "encoding": {"x": {"field": "t", "type": "quantitative"}, "y": {"field": "s", "type": "quantitative"}, "color": {"field": "g", "type": "nominal"}}},
    {"data": {"name": "letters"}, "transform": [{"filter": "datum.panel === 'C'"}],
     "mark": {"type": "text", "fontWeight": "bold", "fontSize": 13, "align": "center", "baseline": "middle"},
     "encoding": {"x": {"field": "t", "type": "quantitative"}, "y": {"field": "s", "type": "quantitative"}, "text": {"field": "label"}}},
    {"data": {"name": "titles"}, "transform": [{"filter": "datum.panel === 'C'"}],
     "mark": {"type": "text", "fontSize": 11, "align": "center", "baseline": "middle"},
     "encoding": {"x": {"field": "t", "type": "quantitative"}, "y": {"field": "s", "type": "quantitative"}, "text": {"field": "label"}}},
    {"data": {"name": "table"}, "transform": [{"filter": "datum.panel === 'C'"}],
     "mark": {"type": "text", "fontSize": 10.5, "align": "center", "baseline": "middle"},
     "encoding": {"x": {"field": "t", "type": "quantitative"}, "y": {"field": "s", "type": "quantitative"}, "text": {"field": "label"}}},
    {"data": {"name": "rowlabels"}, "transform": [{"filter": "datum.panel === 'C'"}],
     "mark": {"type": "text", "fontSize": 10.5, "align": "left", "baseline": "middle"},
     "encoding": {"x": {"field": "t", "type": "quantitative"}, "y": {"field": "s", "type": "quantitative"}, "text": {"field": "label"}}},
    {"data": {"name": "pvals"}, "transform": [{"filter": "datum.panel === 'C'"}],
     "mark": {"type": "text", "fontSize": 10.5, "fontStyle": "italic", "align": "left", "baseline": "middle"},
     "encoding": {"x": {"field": "t", "type": "quantitative"}, "y": {"field": "s", "type": "quantitative"}, "text": {"field": "label"}}},
    {"data": {"name": "pvals"}, "transform": [{"filter": "datum.panel === 'C'"}],
     "mark": {"type": "text", "fontSize": 10.5, "align": "left", "baseline": "middle", "dx": 9},
     "encoding": {"x": {"field": "t", "type": "quantitative"}, "y": {"field": "s", "type": "quantitative"}, "text": {"field": "eq"}}}
   ]},
  {"width": 262, "height": 191,
   "layer": [
    {"data": {"name": "curves"}, "transform": [{"filter": "datum.panel === 'D'"}],
     "mark": {"type": "line", "interpolate": "step-after", "strokeWidth": 1.5},
     "encoding": {
       "x": {"field": "t", "type": "quantitative", "scale": {"domain": [0, 60], "nice": false}, "axis": {"values": [0, 12, 24, 36, 48, 60], "tickCount": 12, "title": "Time after hepatic resection (mo)", "labelFlush": false, "labelOverlap": false, "titlePadding": 4}},
       "y": {"field": "s", "type": "quantitative", "scale": {"domain": [0, 100], "nice": false}, "axis": {"values": [0, 20, 40, 60, 80, 100], "tickCount": 12, "title": "Cumulative RFS rates (%)", "labelOverlap": false, "titlePadding": 7}},
       "color": {"field": "g", "type": "nominal", "scale": {"domain": ["PA-TACE (-)", "PA-TACE (+)"], "range": ["#e3304f", "#1a1a1a"]},
         "legend": {"orient": "none", "legendX": 203, "legendY": 5, "title": null, "symbolType": "M-2,0H2M0,0V-0.75", "symbolSize": 64, "symbolStrokeWidth": 1.2, "labelFontSize": 10.5, "labelOffset": 13, "rowPadding": 3.5, "labelColor": "#000"}}}},
    {"data": {"name": "censor"}, "transform": [{"filter": "datum.panel === 'D'"}],
     "mark": {"type": "point", "shape": "M0,0V-1", "size": 36, "strokeWidth": 1, "filled": false, "opacity": 1},
     "encoding": {"x": {"field": "t", "type": "quantitative"}, "y": {"field": "s", "type": "quantitative"}, "color": {"field": "g", "type": "nominal"}}},
    {"data": {"name": "letters"}, "transform": [{"filter": "datum.panel === 'D'"}],
     "mark": {"type": "text", "fontWeight": "bold", "fontSize": 13, "align": "center", "baseline": "middle"},
     "encoding": {"x": {"field": "t", "type": "quantitative"}, "y": {"field": "s", "type": "quantitative"}, "text": {"field": "label"}}},
    {"data": {"name": "titles"}, "transform": [{"filter": "datum.panel === 'D'"}],
     "mark": {"type": "text", "fontSize": 11, "align": "center", "baseline": "middle"},
     "encoding": {"x": {"field": "t", "type": "quantitative"}, "y": {"field": "s", "type": "quantitative"}, "text": {"field": "label"}}},
    {"data": {"name": "table"}, "transform": [{"filter": "datum.panel === 'D'"}],
     "mark": {"type": "text", "fontSize": 10.5, "align": "center", "baseline": "middle"},
     "encoding": {"x": {"field": "t", "type": "quantitative"}, "y": {"field": "s", "type": "quantitative"}, "text": {"field": "label"}}},
    {"data": {"name": "rowlabels"}, "transform": [{"filter": "datum.panel === 'D'"}],
     "mark": {"type": "text", "fontSize": 10.5, "align": "left", "baseline": "middle"},
     "encoding": {"x": {"field": "t", "type": "quantitative"}, "y": {"field": "s", "type": "quantitative"}, "text": {"field": "label"}}},
    {"data": {"name": "pvals"}, "transform": [{"filter": "datum.panel === 'D'"}],
     "mark": {"type": "text", "fontSize": 10.5, "fontStyle": "italic", "align": "left", "baseline": "middle"},
     "encoding": {"x": {"field": "t", "type": "quantitative"}, "y": {"field": "s", "type": "quantitative"}, "text": {"field": "label"}}},
    {"data": {"name": "pvals"}, "transform": [{"filter": "datum.panel === 'D'"}],
     "mark": {"type": "text", "fontSize": 10.5, "align": "left", "baseline": "middle", "dx": 9},
     "encoding": {"x": {"field": "t", "type": "quantitative"}, "y": {"field": "s", "type": "quantitative"}, "text": {"field": "eq"}}}
   ]}
]
}
